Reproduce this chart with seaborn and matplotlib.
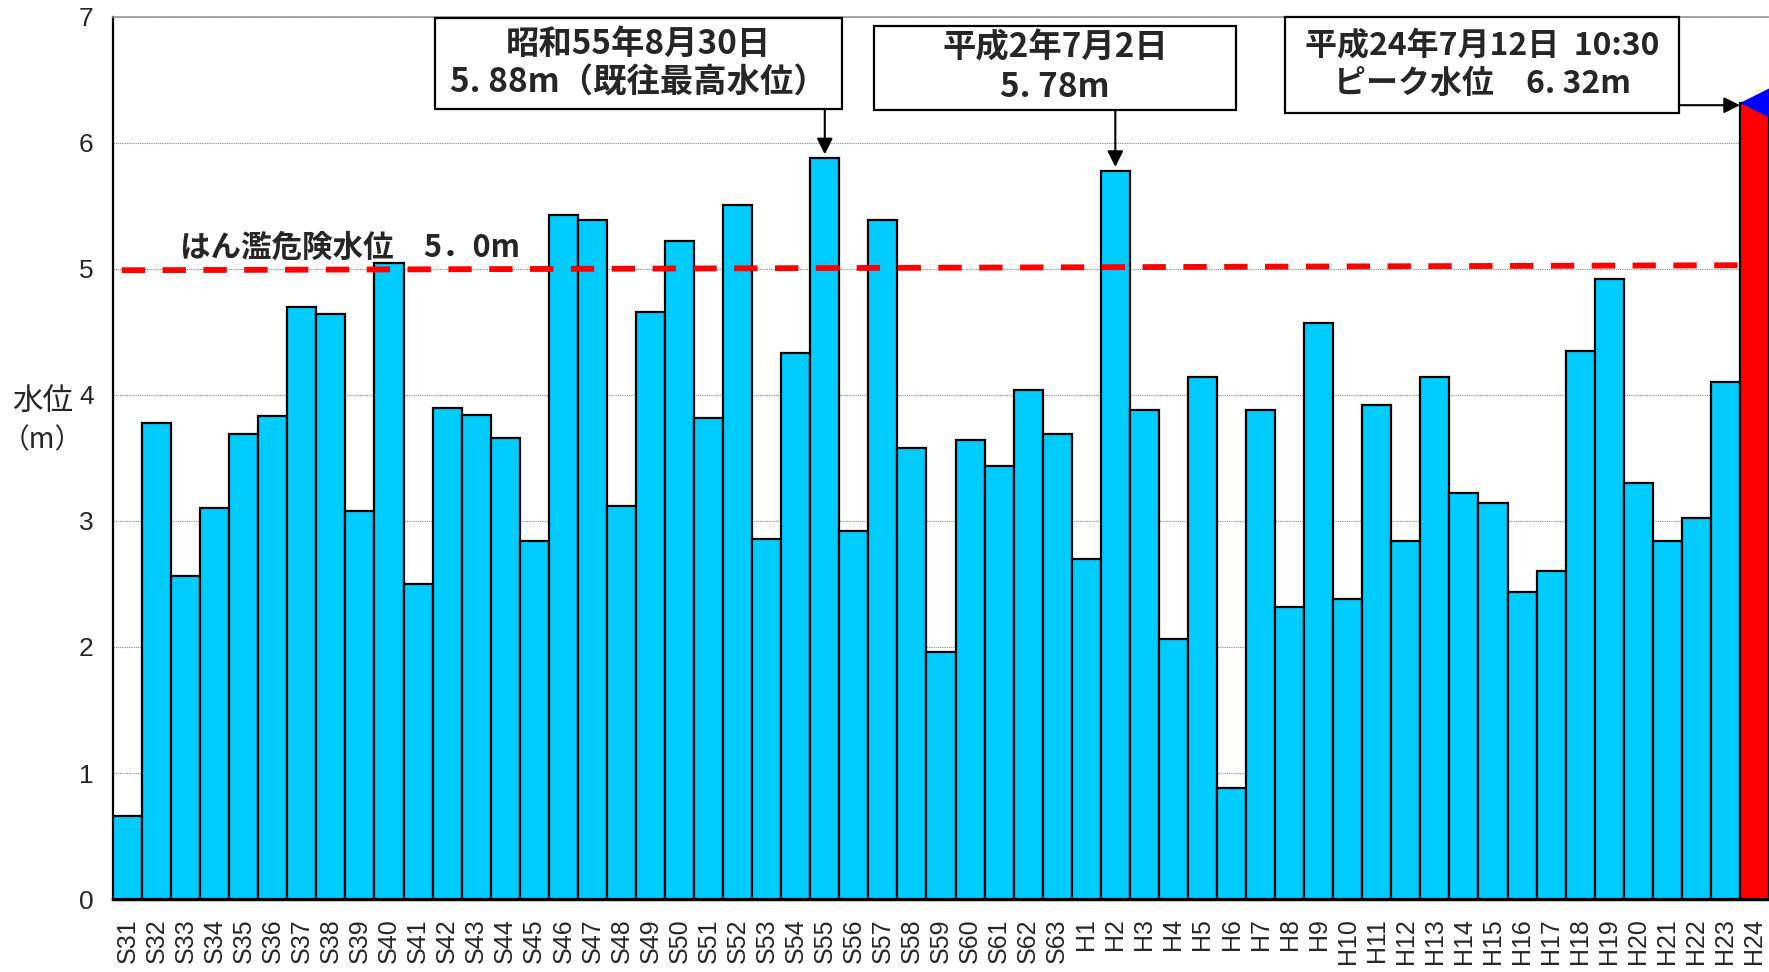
import numpy as np
import pandas as pd
import matplotlib
matplotlib.use("Agg")
import matplotlib.pyplot as plt
from matplotlib.patches import Rectangle
import seaborn as sns

sns.set_style("white")
plt.rcParams["font.family"] = ["Noto Sans CJK JP", "DejaVu Sans"]

# --- data -------------------------------------------------------------
showa_years = [f"S{y}" for y in range(31, 64)]
heisei_years = [f"H{y}" for y in range(1, 25)]
years = showa_years + heisei_years

levels = [
    0.66, 3.78, 2.56, 3.10, 3.69, 3.83, 4.70, 4.64, 3.08, 5.05,
    2.50, 3.90, 3.84, 3.66, 2.84, 5.43, 5.39, 3.12, 4.66, 5.22,
    3.82, 5.51, 2.86, 4.33, 5.88, 2.92, 5.39, 3.58, 1.96, 3.64,
    3.44, 4.04, 3.69,
    2.70, 5.78, 3.88, 2.06, 4.14, 0.88, 3.88, 2.32, 4.57, 2.38,
    3.92, 2.84, 4.14, 3.22, 3.14, 2.44, 2.60, 4.35, 4.92, 3.30,
    2.84, 3.02, 4.10, 6.32,
]

danger_level = [4.99, 5.03]          # 5.0 m line, drawn slightly tilted as in the source
danger_label = "はん濫危険水位　5．0m"

record_year = "S55"
record_text = "昭和55年8月30日\n5. 88m（既往最高水位）"
h2_year = "H2"
h2_text = "平成2年7月2日\n5. 78m"
peak_year = "H24"
peak_text = "平成24年7月12日  10:30\nピーク水位　6. 32m"

blue = "#00CCFF"
red = "#FF0000"

df = pd.DataFrame({"year": years, "level": levels})
colors = [blue] * (len(years) - 1) + [red]

# --- figure -----------------------------------------------------------
fig = plt.figure(figsize=(17.69, 9.72), dpi=100)
ax = fig.add_axes([113 / 1769, 73 / 972, 1 - 113 / 1769, 882 / 972])

sns.barplot(
    data=df, x="year", y="level", hue="year", palette=colors,
    legend=False, width=1.0, saturation=1, edgecolor="black",
    linewidth=1.6, ax=ax, zorder=3,
)

n = len(years)
ax.set_xlim(-0.5, n - 0.5)
ax.set_ylim(0, 7)
ax.set_yticks(range(0, 8))
ax.set_xlabel("")
ax.set_ylabel("")

ax.yaxis.grid(True, color="#888888", linestyle=(0, (1, 1)), linewidth=0.8, zorder=0)
ax.set_axisbelow(True)

ax.spines["right"].set_visible(False)
ax.spines["top"].set_color("#999999")
ax.spines["top"].set_linewidth(1.2)
ax.spines["left"].set_linewidth(1.6)
ax.spines["bottom"].set_linewidth(2.5)
for s in ["left", "bottom"]:
    ax.spines[s].set_color("black")

ax.tick_params(axis="y", direction="in", length=6, width=1, pad=14)
ax.tick_params(axis="x", length=0, pad=14)
for lab in ax.get_yticklabels():
    lab.set_fontfamily(["Liberation Sans Narrow", "Liberation Sans", "DejaVu Sans"])
    lab.set_fontsize(19)
ax.set_xticks(range(n))
ax.set_xticklabels(years, rotation=90, fontsize=18,
                   family=["Liberation Sans", "DejaVu Sans"])

# --- danger level line ------------------------------------------------
ax.plot([-0.2, n - 1.5], danger_level, color="red", lw=4.2,
        dashes=(4, 3), zorder=4, solid_capstyle="butt")
ax.text(1.8, 5.17, danger_label, fontsize=22, fontweight="bold",
        ha="left", va="center", zorder=5)

# --- annotation boxes -------------------------------------------------
def box(x0, x1, y0, y1, text, size=24):
    ax.add_patch(Rectangle((x0, y0), x1 - x0, y1 - y0, facecolor="white",
                           edgecolor="black", lw=1.6, zorder=6, clip_on=False))
    ax.text((x0 + x1) / 2, (y0 + y1) / 2, text, ha="center", va="center",
            fontsize=size, fontweight="bold", linespacing=1.25, zorder=7)

arrow = dict(arrowstyle="-|>", mutation_scale=24, lw=1.5, color="black",
             shrinkA=0, shrinkB=0)

i_rec = years.index(record_year)
box(10.6, 24.6, 6.27, 6.99, record_text)
ax.annotate("", xy=(i_rec, levels[i_rec] + 0.03), xytext=(i_rec, 6.27),
            arrowprops=arrow, zorder=8)

i_h2 = years.index(h2_year)
box(25.7, 38.15, 6.26, 6.93, h2_text)
ax.annotate("", xy=(i_h2, levels[i_h2] + 0.03), xytext=(i_h2, 6.26),
            arrowprops=arrow, zorder=8)

i_pk = years.index(peak_year)
box(39.85, 53.4, 6.24, 7.0, peak_text, size=23)
ax.annotate("", xy=(i_pk - 0.5, 6.30), xytext=(53.4, 6.30),
            arrowprops=arrow, zorder=8)
ax.plot([i_pk + 0.5], [levels[i_pk]], marker="<", ms=42, color="blue",
        markeredgewidth=0, zorder=6, clip_on=False)

# --- y label ----------------------------------------------------------
fig.text(0.024, 1 - 401 / 972, "水位", fontsize=22, ha="center", va="center")
fig.text(0.024, 1 - 440 / 972, "（m）", fontsize=20, ha="center", va="center")

fig.savefig("out.png", dpi=100)
